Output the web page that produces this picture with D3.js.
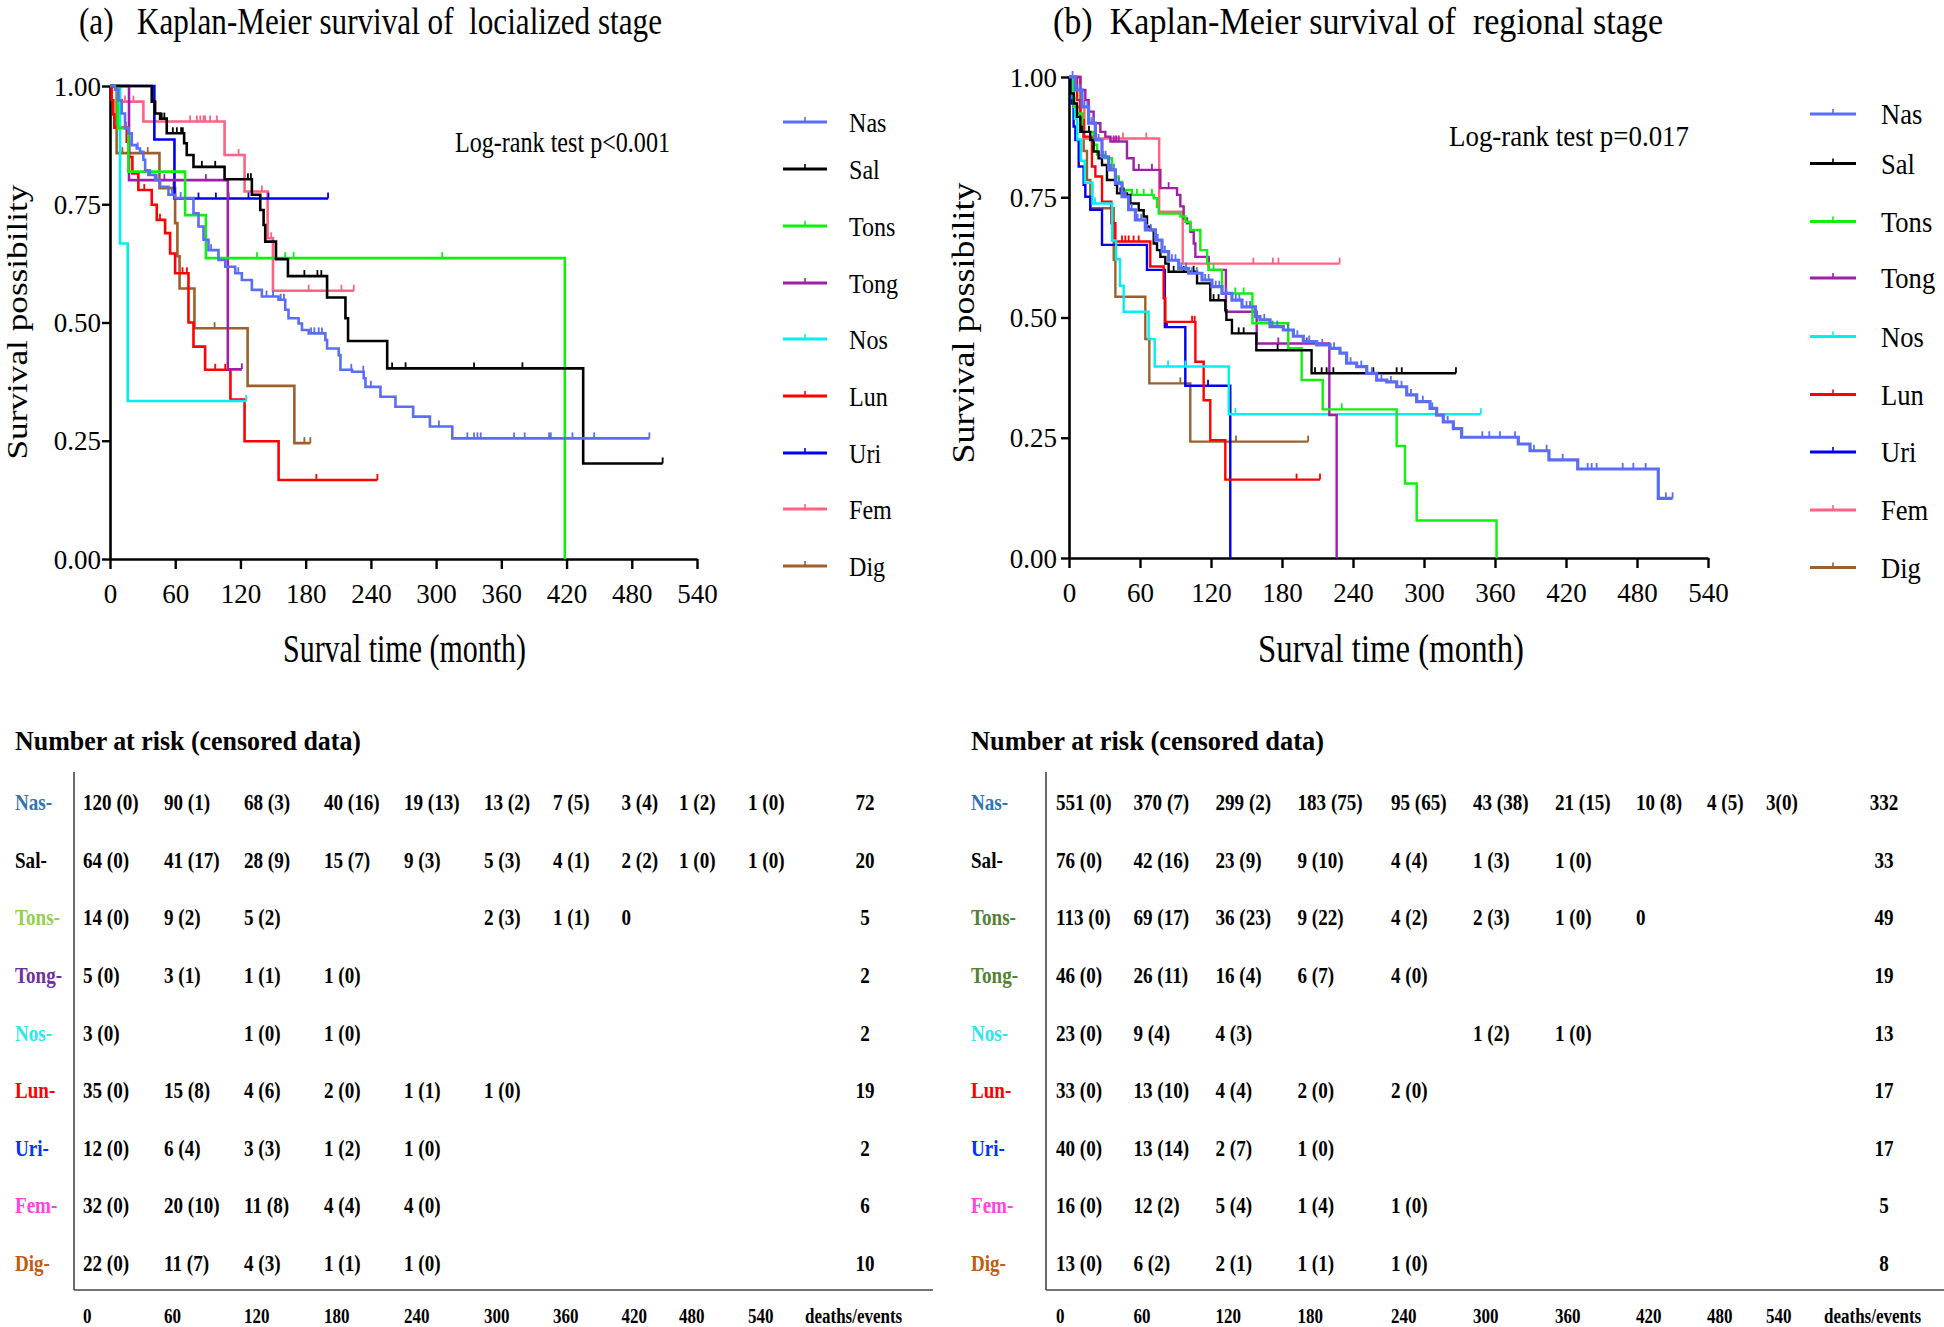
<!DOCTYPE html>
<html>
<head>
<meta charset="utf-8">
<script src="https://cdn.jsdelivr.net/npm/d3@7"></script>
<style>
  body { margin: 0; background: #fff; }
  text { font-family: "Liberation Serif", "Times New Roman", serif; }
</style>
</head>
<body>
<div id="chart"></div>
<script>
// ---- data ----
const groups = ["Nas", "Sal", "Tons", "Tong", "Nos", "Lun", "Uri", "Fem", "Dig"];
const curveColors = ["#5b6cf5", "#000000", "#11ee11", "#a01fa8", "#00f0f0", "#ff0000", "#0000ee", "#ff6282", "#9e5f2b"];
const labelColorsA = ["#2e75b6", "#000000", "#92d050", "#7030a0", "#2ee6f0", "#ff0000", "#0033ff", "#ff44dd", "#c55a11"];
const labelColorsB = ["#2e75b6", "#000000", "#538135", "#548235", "#2ee6f0", "#ff0000", "#0033ff", "#ff44dd", "#c55a11"];
const monthTicks = [0, 60, 120, 180, 240, 300, 360, 420, 480, 540];
const survTicks = [0, 0.25, 0.5, 0.75, 1];

// step curves: [month, survival after the drop]; censored months
const nasA = [[4.6,0.992],[7.7,0.970],[10.8,0.942],[13.8,0.910],[16.9,0.900],[20,0.875],[24.6,0.868],[27.6,0.861],[30.7,0.844],[32.3,0.822],[35.3,0.812],[41.5,0.801],[46.1,0.787],[53.8,0.770],[59.9,0.763],[76.8,0.731],[81.4,0.703],[86,0.675],[90.6,0.653],[99.8,0.632],[106,0.618],[115.2,0.604],[121.3,0.590],[130.5,0.569],[139.7,0.555],[155,0.548],[161.2,0.527],[164.2,0.509],[173.5,0.498],[176.6,0.484],[182.8,0.477],[198.1,0.463],[199.7,0.445],[210.4,0.431],[212,0.400],[222.7,0.396],[233.4,0.382],[235,0.364],[248.8,0.343],[262.6,0.322],[278.9,0.301],[294.3,0.280],[314.9,0.255]];
const nasACens = [25.5,37,43,57,65,93,118,144,150,157,160,185,188,192,195,222,233,240,302.6,328.7,334.9,338,341,371.7,381.5,403.9,405.5,425.4,445.4,496.2];
const salA = [[38.4,0.967],[41.5,0.942],[46.1,0.931],[52.2,0.900],[68.2,0.879],[70.6,0.854],[76.8,0.829],[105.4,0.803],[130.5,0.770],[138.2,0.738],[141.3,0.706],[142.8,0.671],[152.7,0.634],[163.7,0.598],[199.7,0.553],[216.6,0.509],[219,0.461],[255,0.403],[435.3,0.202]];
const salACens = [47.6,50,57.8,61.5,65.4,67,84.5,96.8,126.9,129.6,178.8,190.8,194.4,259.5,271.9,334.9,379.4,508.4];
const tonsA = [[7.1,0.911],[16.9,0.819],[69.1,0.727],[88.2,0.636],[418.4,0]];
const tonsACens = [135.2,161.2,168.9,305.6];
const tongA = [[17.5,0.801],[108.4,0.401]];
const tongACens = [50,88.2,121.3];
const nosA = [[9.2,0.667],[16.3,0.334]];
const nosACens = [125.3];
const lunA = [[1.5,0.970],[3,0.940],[4,0.912],[15.4,0.882],[17.5,0.850],[20.6,0.815],[26.1,0.780],[38.4,0.749],[43,0.717],[50.7,0.689],[55.3,0.646],[59.9,0.604],[72.2,0.500],[76.8,0.449],[87.5,0.400],[110.8,0.337],[123.8,0.249],[155.1,0.167]];
const lunACens = [14.5,31.5,46,66.7,70.7,96.8,106,189.8,246];
const uriA = [[40.8,0.887],[59.3,0.762]];
const uriACens = [81.4,97.4,109,127.4,145.8,200.6];
const femA = [[9.2,0.967],[30.7,0.925],[105.4,0.854],[123.8,0.777],[145,0.678],[149.9,0.567]];
const femACens = [13.8,21.5,73.7,79.9,83,86,87.5,92.1,98.3,118.3,139.7,148.3,182.8,212.9,224.3];
const digA = [[6.1,0.858],[45.5,0.784],[59.9,0.710],[62,0.640],[64,0.572],[77.7,0.488],[126.6,0.366],[169.6,0.245]];
const digACens = [11.4,34.7,58.4,96.2,178.8,184.3];

const nasB = [[5.4,0.973],[11,0.938],[16.6,0.904],[22.3,0.869],[27.9,0.834],[33.5,0.807],[39.2,0.779],[44.8,0.751],[50.4,0.724],[56.1,0.703],[64.5,0.682],[73,0.661],[78.6,0.637],[84.2,0.619],[92.7,0.602],[101.1,0.592],[112.4,0.578],[120.8,0.564],[129.3,0.550],[137.7,0.536],[146.2,0.522],[157.5,0.502],[161.4,0.495],[169.9,0.481],[181.1,0.474],[189.6,0.461],[198,0.450],[209.3,0.443],[220.6,0.436],[229,0.426],[234.6,0.405],[243.1,0.398],[251.6,0.384],[260,0.370],[268.5,0.366],[276.9,0.356],[285.4,0.339],[293.8,0.325],[305.1,0.311],[310.7,0.297],[316.3,0.283],[324.8,0.269],[331.8,0.251],[379.7,0.237],[389.6,0.223],[405.6,0.204],[429.9,0.185],[498,0.124]];
const nasBCens = [3,6.5,9,13,15.5,19,21,25,29,31,35.5,38,42,46.5,48,53,58,61,66,69,75,81,87,90,95,99,104,108,115,118,124,127,133,141,144,150,153,165,172,176,185,193,203,214,224,238,247,256,264,272,281,289,299,307,320,349.3,355.2,364.2,376.9,392.9,403.6,417.2,438.3,441.7,445.9,467.9,476.9,487.3,504.4,510.1];
const salB = [[1.1,0.966],[4,0.945],[6.8,0.917],[9.6,0.886],[18,0.869],[20.8,0.845],[25,0.831],[27.9,0.817],[32.1,0.786],[39.2,0.776],[40.6,0.758],[49,0.755],[51.8,0.737],[58.9,0.723],[63.1,0.710],[65.9,0.689],[68.7,0.682],[71.6,0.654],[74.4,0.640],[77.2,0.626],[81.4,0.612],[84.2,0.595],[108.2,0.571],[119.4,0.536],[132.1,0.515],[133,0.495],[137.7,0.467],[158.3,0.432],[205,0.384]];
const salBCens = [11,16.9,43.4,46.2,88.4,96.9,105.3,122.2,126.4,143.4,147.6,176.3,207.9,213.5,217.7,223.4,257.2,276.9,281.2,327];
const tonsB = [[4,0.938],[6.8,0.924],[11,0.886],[20.8,0.859],[23.7,0.838],[30.7,0.831],[36.3,0.807],[39.2,0.793],[42,0.782],[44.8,0.765],[53.2,0.755],[71.6,0.748],[74.4,0.730],[75.8,0.716],[94.1,0.710],[98.3,0.699],[102.6,0.682],[111,0.640],[116.7,0.613],[118.1,0.599],[129.3,0.550],[155,0.488],[185.3,0.436],[196.6,0.370],[214.4,0.309],[276.9,0.233],[283.9,0.155],[293.8,0.078],[361.3,0]];
const tonsBCens = [57.4,63.1,70.1,122.2,140.5,147.6,230.5];
const tongB = [[9.6,0.973],[13.8,0.952],[16.6,0.928],[20.8,0.904],[26.5,0.886],[30.7,0.876],[35,0.866],[49,0.831],[54.6,0.807],[77.2,0.769],[91.3,0.755],[94.1,0.731],[96.9,0.706],[99.7,0.696],[102.6,0.678],[105.4,0.654],[106.8,0.626],[118.1,0.599],[132.6,0.512],[158.6,0.446],[220,0.297],[226.2,0]];
const tongBCens = [37.8,39.8,42,59,70.1,84.2,176.9,200.9];
const nosB = [[3,0.957],[5,0.913],[7,0.870],[10,0.826],[13.3,0.780],[19.9,0.737],[36.5,0.660],[39.8,0.621],[43.1,0.566],[46.2,0.512],[67.3,0.455],[72.4,0.398],[135,0.299]];
const nosBCens = [22,83.7,98.3,140.6,348];
const lunB = [[6.8,0.952],[9.6,0.910],[12.4,0.876],[19.4,0.814],[22.3,0.793],[27.9,0.741],[35.8,0.696],[39.2,0.658],[68.7,0.606],[80,0.540],[81.4,0.491],[106.8,0.408],[113.8,0.328],[119.4,0.245],[132.1,0.163]];
const lunBCens = [44.8,47.6,50.4,54.6,58.9,104,106.2,192.3,212.1];
const uriB = [[2.3,0.945],[3.9,0.897],[5.4,0.869],[8.2,0.814],[12.4,0.776],[13.8,0.751],[18,0.724],[27.9,0.651],[65.9,0.599],[81,0.480],[98.3,0.358],[136.3,0]];
const uriBCens = [82.8,117.5];
const femB = [[4,0.9375],[13,0.872],[76.2,0.720],[96.1,0.612]];
const femBCens = [45.6,65.3,155.8,172.3,177,228.7];
const digB = [[9.6,0.923],[12.4,0.846],[15.2,0.786],[18,0.727],[37.8,0.620],[39.2,0.543],[64.5,0.455],[67.9,0.363],[102.5,0.242]];
const digBCens = [94.1,141.1,202.1];

// number at risk (censored) tables
const riskA = [
  ["120 (0)","90 (1)","68 (3)","40 (16)","19 (13)","13 (2)","7 (5)","3 (4)","1 (2)","1 (0)"],
  ["64 (0)","41 (17)","28 (9)","15 (7)","9 (3)","5 (3)","4 (1)","2 (2)","1 (0)","1 (0)"],
  ["14 (0)","9 (2)","5 (2)","","","2 (3)","1 (1)","0","",""],
  ["5 (0)","3 (1)","1 (1)","1 (0)"],
  ["3 (0)","","1 (0)","1 (0)"],
  ["35 (0)","15 (8)","4 (6)","2 (0)","1 (1)","1 (0)"],
  ["12 (0)","6 (4)","3 (3)","1 (2)","1 (0)"],
  ["32 (0)","20 (10)","11 (8)","4 (4)","4 (0)"],
  ["22 (0)","11 (7)","4 (3)","1 (1)","1 (0)"]
];
const deathsA = ["72","20","5","2","2","19","2","6","10"];
const riskB = [
  ["551 (0)","370 (7)","299 (2)","183 (75)","95 (65)","43 (38)","21 (15)","10 (8)","4 (5)","3(0)"],
  ["76 (0)","42 (16)","23 (9)","9 (10)","4 (4)","1 (3)","1 (0)"],
  ["113 (0)","69 (17)","36 (23)","9 (22)","4 (2)","2 (3)","1 (0)","0"],
  ["46 (0)","26 (11)","16 (4)","6 (7)","4 (0)"],
  ["23 (0)","9 (4)","4 (3)","","","1 (2)","1 (0)"],
  ["33 (0)","13 (10)","4 (4)","2 (0)","2 (0)"],
  ["40 (0)","13 (14)","2 (7)","1 (0)"],
  ["16 (0)","12 (2)","5 (4)","1 (4)","1 (0)"],
  ["13 (0)","6 (2)","2 (1)","1 (1)","1 (0)"]
];
const deathsB = ["332","33","49","19","13","17","17","5","8"];

// ---- layout ----
const W = 1944, H = 1327;
const panelA = {
  x0: 110, x1: 697, y0: 559, y1: 86, yPad: 1, lw: 2.6,
  steps: [nasA, salA, tonsA, tongA, nosA, lunA, uriA, femA, digA],
  cens: [nasACens, salACens, tonsACens, tongACens, nosACens, lunACens, uriACens, femACens, digACens],
  title: "(a)   Kaplan-Meier survival of  locialized stage", titleX: 79, titleW: 583, titleY: 34, titleSize: 37,
  pText: "Log-rank test p<0.001", pX: 455, pW: 215, pY: 152, pSize: 29,
  xTitleX: 283, xTitleW: 243, yTitleX: 27, yTitleY: 322, yTitleW: 275, axisSize: 40, yAxisSize: 29,
  legX0: 783, legX1: 827, legTextX: 849, legSize: 28, legSx: 0.86,
  legRows: [122, 169, 226, 283, 339, 396, 453, 509, 566]
};
const panelB = {
  x0: 1069, x1: 1708, y0: 558, y1: 77, yPad: 4, lw: 2.4,
  steps: [nasB, salB, tonsB, tongB, nosB, lunB, uriB, femB, digB],
  cens: [nasBCens, salBCens, tonsBCens, tongBCens, nosBCens, lunBCens, uriBCens, femBCens, digBCens],
  title: "(b)  Kaplan-Meier survival of  regional stage", titleX: 1053, titleW: 610, titleY: 34, titleSize: 38,
  pText: "Log-rank test p=0.017", pX: 1449, pW: 240, pY: 146, pSize: 30,
  xTitleX: 1258, xTitleW: 266, yTitleX: 974, yTitleY: 323, yTitleW: 281, axisSize: 41, yAxisSize: 31,
  legX0: 1810, legX1: 1856, legTextX: 1881, legSize: 29.5, legSx: 0.9,
  legRows: [114, 163.5, 221.5, 278, 336.5, 394.5, 452, 510, 567.6]
};
const tableA = {
  titleX: 15, titleW: 346, labelX: 15, lineX: 74, lineRight: 933, cols: [83,164,244,324,404,484,553,621.5,679,748],
  deathX: 865, deathLabelX: 805, risk: riskA, deaths: deathsA, colors: labelColorsA
};
const tableB = {
  titleX: 971, titleW: 353, labelX: 971, lineX: 1046, lineRight: 1944, cols: [1056,1133.5,1215.5,1297.5,1391,1473,1555,1636,1707,1766],
  deathX: 1884, deathLabelX: 1824, risk: riskB, deaths: deathsB, colors: labelColorsB
};

const svg = d3.select("#chart").append("svg")
  .attr("width", W).attr("height", H)
  .style("background", "#fff");

function fitText(g, x, y, str, size, width, bold) {
  return g.append("text")
    .attr("x", x).attr("y", y)
    .attr("font-size", size)
    .attr("font-weight", bold ? "bold" : "normal")
    .attr("textLength", width)
    .attr("lengthAdjust", "spacingAndGlyphs")
    .style("white-space", "pre")
    .text(str);
}

function narrowText(g, x, y, str, size, sx, anchor, bold, fill) {
  return g.append("text")
    .attr("transform", `translate(${x},${y}) scale(${sx},1)`)
    .attr("font-size", size)
    .attr("font-weight", bold ? "bold" : "normal")
    .attr("text-anchor", anchor || "start")
    .attr("fill", fill || "#000")
    .text(str);
}

function survAt(steps, t) {
  const i = d3.bisector(d => d[0]).right(steps, t);
  return i === 0 ? 1 : steps[i - 1][1];
}

function drawPanel(p) {
  const x = d3.scaleLinear().domain([0, 540]).range([p.x0, p.x1]);
  const y = d3.scaleLinear().domain([0, 1]).range([p.y0, p.y1]);
  const g = svg.append("g");

  // axes
  const gx = g.append("g")
    .attr("transform", `translate(0,${p.y0})`)
    .call(d3.axisBottom(x).tickValues(monthTicks).tickSize(10).tickSizeOuter(0).tickPadding(15).tickFormat(d3.format("d")));
  const gy = g.append("g")
    .attr("transform", `translate(${p.x0},0)`)
    .call(d3.axisLeft(y).tickValues(survTicks).tickSize(8).tickSizeOuter(0).tickPadding(p.yPad).tickFormat(d3.format(".2f")));
  [gx, gy].forEach(a => {
    a.attr("font-family", null).attr("font-size", 27);
    a.select(".domain").attr("stroke", "#000").attr("stroke-width", 2.6);
    a.selectAll(".tick line").attr("stroke", "#000").attr("stroke-width", 2.4);
    a.selectAll(".tick text").attr("fill", "#000");
  });
  gy.selectAll(".tick text").attr("dy", "0.34em");

  // curves, Nas drawn last (on top)
  const line = d3.line().curve(d3.curveStepAfter).x(d => x(d[0])).y(d => y(d[1]));
  d3.range(groups.length).reverse().forEach(i => {
    const steps = p.steps[i], cens = p.cens[i];
    const last = steps[steps.length - 1];
    const end = Math.max(last[0], cens.length ? cens[cens.length - 1] : 0);
    const pts = [[0, 1], ...steps, [end, last[1]]];
    const thick = (p === panelB && i === 0) ? 3.2 : p.lw;
    g.append("path")
      .attr("d", line(pts))
      .attr("fill", "none")
      .attr("stroke", curveColors[i])
      .attr("stroke-width", thick);
    g.append("g").selectAll("line")
      .data(cens)
      .join("line")
      .attr("x1", d => x(d)).attr("x2", d => x(d))
      .attr("y1", d => y(survAt(steps, d)))
      .attr("y2", d => y(survAt(steps, d)) - 6)
      .attr("stroke", curveColors[i])
      .attr("stroke-width", 1.8);
  });

  // titles
  fitText(g, p.titleX, p.titleY, p.title, p.titleSize, p.titleW);
  fitText(g, p.pX, p.pY, p.pText, p.pSize, p.pW);
  fitText(g, p.xTitleX, 662, "Surval time (month)", p.axisSize, p.xTitleW);
  g.append("text")
    .attr("transform", `translate(${p.yTitleX},${p.yTitleY}) rotate(-90)`)
    .attr("text-anchor", "middle")
    .attr("font-size", p.yAxisSize)
    .attr("textLength", p.yTitleW)
    .attr("lengthAdjust", "spacingAndGlyphs")
    .text("Survival possibility");

  // legend
  const leg = g.append("g");
  groups.forEach((name, i) => {
    const ly = p.legRows[i];
    leg.append("line")
      .attr("x1", p.legX0).attr("x2", p.legX1).attr("y1", ly).attr("y2", ly)
      .attr("stroke", curveColors[i]).attr("stroke-width", 3);
    leg.append("line")
      .attr("x1", (p.legX0 + p.legX1) / 2).attr("x2", (p.legX0 + p.legX1) / 2)
      .attr("y1", ly).attr("y2", ly - 5)
      .attr("stroke", curveColors[i]).attr("stroke-width", 1.6);
    narrowText(leg, p.legTextX, ly + 10, name, p.legSize, p.legSx);
  });
}

function drawTable(t) {
  const g = svg.append("g");
  const rowY = d3.scalePoint().domain(groups).range([802, 1263]);
  fitText(g, t.titleX, 750, "Number at risk (censored data)", 28, t.titleW, true);
  g.append("line").attr("x1", t.lineX).attr("x2", t.lineX).attr("y1", 772).attr("y2", 1290)
    .attr("stroke", "#444").attr("stroke-width", 1.6);
  g.append("line").attr("x1", t.lineX).attr("x2", t.lineRight).attr("y1", 1290).attr("y2", 1290)
    .attr("stroke", "#444").attr("stroke-width", 1.6);
  groups.forEach((name, i) => {
    const yy = rowY(name) + 8;
    narrowText(g, t.labelX, yy, name + "-", 23, 0.83, "start", true, t.colors[i]);
    t.risk[i].forEach((cell, j) => {
      if (cell) narrowText(g, t.cols[j], yy, cell, 23, 0.83, "start", true);
    });
    narrowText(g, t.deathX, yy, t.deaths[i], 23, 0.83, "middle", true);
  });
  monthTicks.forEach((m, j) => narrowText(g, t.cols[j], 1323, String(m), 20, 0.85, "start", true));
  narrowText(g, t.deathLabelX, 1323, "deaths/events", 20, 0.85, "start", true);
}

drawPanel(panelA);
drawPanel(panelB);
drawTable(tableA);
drawTable(tableB);
</script>
</body>
</html>
